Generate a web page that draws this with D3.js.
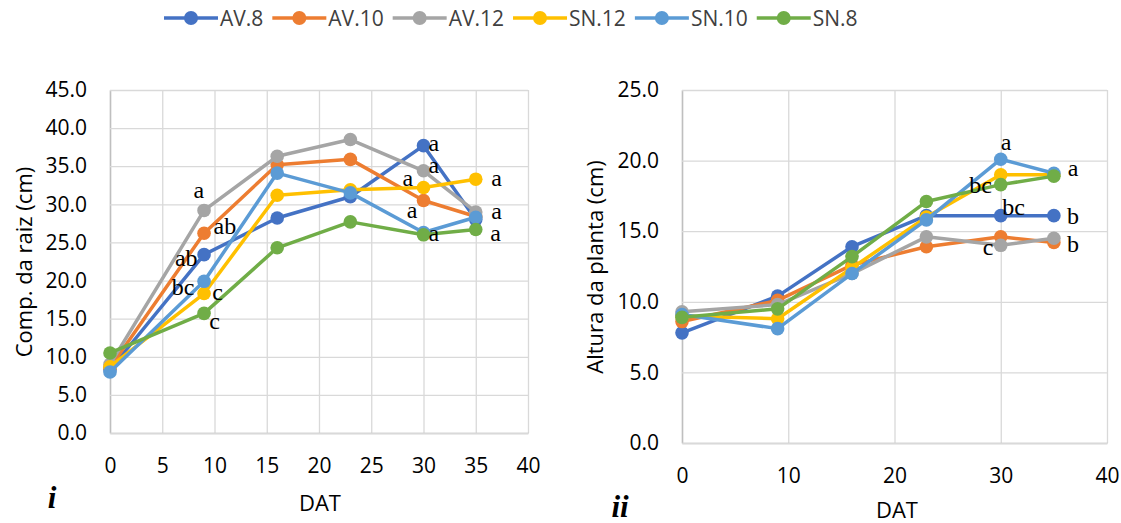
<!DOCTYPE html>
<html>
<head>
<meta charset="utf-8">
<script src="https://cdn.jsdelivr.net/npm/d3@7"></script>
<style>
  body { margin: 0; background: #fff; }
  svg text { font-family: "Open Sans", sans-serif; }
</style>
</head>
<body>
<div id="chart"></div>
<script>
// sampling days (DAT)
const days = [0, 9, 16, 23, 30, 35];

const seriesNames = ["AV.8", "AV.10", "AV.12", "SN.12", "SN.10", "SN.8"];
const seriesColors = ["#4472C4", "#ED7D31", "#A5A5A5", "#FFC000", "#5B9BD5", "#70AD47"];

// chart i: root length (cm)
const rootAV8  = [8.3, 23.4, 28.2, 31.0, 37.7, 28.0];
const rootAV10 = [8.6, 26.2, 35.2, 35.9, 30.5, 28.4];
const rootAV12 = [9.0, 29.2, 36.3, 38.5, 34.4, 29.0];
const rootSN12 = [8.7, 18.3, 31.2, 31.9, 32.2, 33.3];
const rootSN10 = [8.0, 19.9, 34.1, 31.5, 26.3, 28.3];
const rootSN8  = [10.5, 15.7, 24.3, 27.7, 26.0, 26.7];

// chart ii: plant height (cm)
const heightAV8  = [7.8, 10.4, 13.9, 16.1, 16.1, 16.1];
const heightAV10 = [8.6, 10.1, 12.6, 13.9, 14.6, 14.2];
const heightAV12 = [9.3, 9.8, 12.0, 14.6, 14.0, 14.5];
const heightSN12 = [9.0, 8.8, 12.4, 16.0, 19.0, 19.0];
const heightSN10 = [9.1, 8.1, 12.0, 15.8, 20.1, 19.1];
const heightSN8  = [8.9, 9.5, 13.2, 17.1, 18.3, 18.9];

// significance letters (placed in data units)
const rootLetters = [
  {x: 8.5, y: 31.9, t: "a"}, {x: 11.0, y: 27.2, t: "ab"}, {x: 7.3, y: 23.0, t: "ab"},
  {x: 7.0, y: 19.2, t: "bc"}, {x: 10.3, y: 18.5, t: "c"}, {x: 10.0, y: 14.7, t: "c"},
  {x: 31.0, y: 38.1, t: "a"}, {x: 31.0, y: 35.2, t: "a"}, {x: 28.5, y: 33.5, t: "a"},
  {x: 28.9, y: 29.3, t: "a"}, {x: 31.0, y: 26.2, t: "a"},
  {x: 37.0, y: 33.5, t: "a"}, {x: 37.0, y: 29.1, t: "a"}, {x: 36.9, y: 26.3, t: "a"}
];
const heightLetters = [
  {x: 30.5, y: 21.3, t: "a"}, {x: 36.8, y: 19.5, t: "a"}, {x: 28.1, y: 18.3, t: "bc"},
  {x: 31.2, y: 16.7, t: "bc"}, {x: 36.8, y: 16.1, t: "b"}, {x: 28.8, y: 13.9, t: "c"},
  {x: 36.8, y: 14.1, t: "b"}
];

const svg = d3.select("#chart").append("svg")
  .attr("width", 1121)
  .attr("height", 523);

function drawChart(opt) {
  const x = d3.scaleLinear().domain(opt.xDomain).range(opt.xRange);
  const y = d3.scaleLinear().domain(opt.yDomain).range(opt.yRange);
  const g = svg.append("g");
  const w = opt.xRange[1] - opt.xRange[0];
  const h = opt.yRange[0] - opt.yRange[1];

  // horizontal gridlines + y labels
  const yAxis = g.append("g")
    .attr("transform", `translate(${opt.xRange[0]},0)`)
    .call(d3.axisLeft(y).tickValues(opt.yTicks).tickFormat(d3.format(".1f"))
      .tickSizeInner(-w).tickSizeOuter(0).tickPadding(23));
  // vertical gridlines + x labels
  const xAxis = g.append("g")
    .attr("transform", `translate(0,${opt.yRange[0]})`)
    .call(d3.axisBottom(x).tickValues(opt.xTicks)
      .tickSizeInner(-h).tickSizeOuter(0).tickPadding(25));

  [yAxis, xAxis].forEach(a => {
    a.selectAll(".tick line").attr("stroke", "#d9d9d9").attr("stroke-width", 1.3);
    a.selectAll(".tick text").attr("fill", "#000").style("font-size", "21px");
    a.select(".domain").attr("stroke", "#bfbfbf").attr("stroke-width", 1.5);
  });
  yAxis.raise();
  xAxis.select(".domain").raise();

  const line = d3.line().x((d, i) => x(days[i])).y(d => y(d));

  opt.series.forEach((vals, k) => {
    const s = g.append("g");
    s.append("path")
      .datum(vals)
      .attr("d", line)
      .attr("fill", "none")
      .attr("stroke", seriesColors[k])
      .attr("stroke-width", 3.5)
      .attr("stroke-linejoin", "round");
    s.selectAll("circle")
      .data(vals)
      .join("circle")
        .attr("cx", (d, i) => x(days[i]))
        .attr("cy", d => y(d))
        .attr("r", 6.8)
        .attr("fill", seriesColors[k]);
  });

  g.selectAll(".letter")
    .data(opt.letters)
    .join("text")
      .attr("class", "letter")
      .attr("x", d => x(d.x))
      .attr("y", d => y(d.y))
      .attr("text-anchor", "middle")
      .attr("dominant-baseline", "central")
      .style("font-family", "'Liberation Serif', 'Times New Roman', serif")
      .style("font-size", "24px")
      .text(d => d.t);

  // axis titles
  g.append("text")
    .attr("transform", `translate(${opt.yTitlePos[0]},${opt.yTitlePos[1]}) rotate(-90)`)
    .attr("text-anchor", "middle")
    .attr("dominant-baseline", "central")
    .style("font-size", "22px")
    .text(opt.yTitle);
  g.append("text")
    .attr("x", opt.xTitlePos[0])
    .attr("y", opt.xTitlePos[1])
    .attr("text-anchor", "middle")
    .attr("dominant-baseline", "central")
    .style("font-size", "22px")
    .text("DAT");
  g.append("text")
    .attr("x", opt.tagPos[0])
    .attr("y", opt.tagPos[1])
    .attr("text-anchor", "middle")
    .attr("dominant-baseline", "central")
    .style("font-family", "'Liberation Serif', 'Times New Roman', serif")
    .style("font-size", "31px")
    .style("font-weight", "bold")
    .style("font-style", "italic")
    .text(opt.tag);
}

drawChart({
  xDomain: [0, 40], xRange: [110, 528],
  yDomain: [0, 45], yRange: [433, 90],
  xTicks: d3.range(0, 41, 5), yTicks: d3.range(0, 46, 5),
  series: [rootAV8, rootAV10, rootAV12, rootSN12, rootSN10, rootSN8],
  letters: rootLetters,
  yTitle: "Comp. da raiz (cm)", yTitlePos: [23, 262],
  xTitlePos: [320, 502],
  tag: "i", tagPos: [52, 497]
});

drawChart({
  xDomain: [0, 40], xRange: [682, 1107],
  yDomain: [0, 25], yRange: [443, 90],
  xTicks: d3.range(0, 41, 10), yTicks: d3.range(0, 26, 5),
  series: [heightAV8, heightAV10, heightAV12, heightSN12, heightSN10, heightSN8],
  letters: heightLetters,
  yTitle: "Altura da planta (cm)", yTitlePos: [594, 267],
  xTitlePos: [897, 509],
  tag: "ii", tagPos: [620, 506]
});

// legend
const legend = svg.append("g").attr("transform", "translate(0,18)");
let lx = 164;
seriesNames.forEach((name, k) => {
  const item = legend.append("g").attr("transform", `translate(${lx},0)`);
  item.append("line")
    .attr("x1", 0).attr("x2", 54)
    .attr("stroke", seriesColors[k]).attr("stroke-width", 3.5);
  item.append("circle")
    .attr("cx", 27).attr("r", 7)
    .attr("fill", seriesColors[k]);
  const t = item.append("text")
    .attr("x", 56)
    .attr("dominant-baseline", "central")
    .style("font-size", "21px")
    .style("fill", "#404040")
    .text(name);
  lx += 56 + t.node().getComputedTextLength() + 9;
});
</script>
</body>
</html>
